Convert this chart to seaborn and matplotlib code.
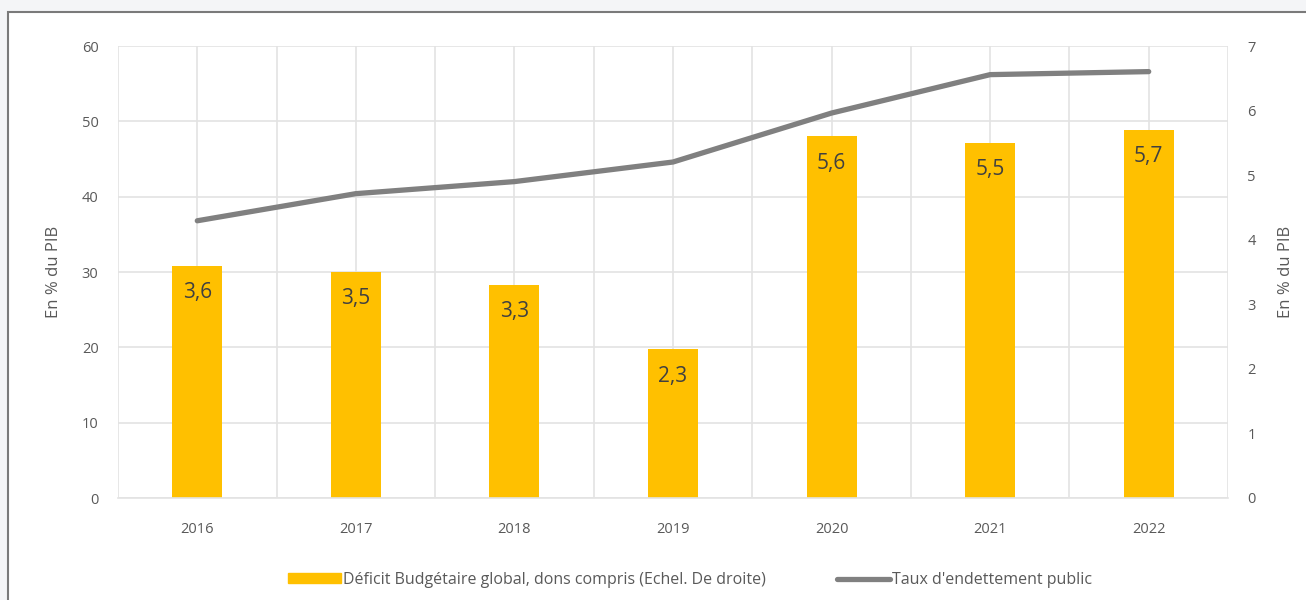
import matplotlib.pyplot as plt
import matplotlib.patches as mpatches
from matplotlib.lines import Line2D
import numpy as np
import pandas as pd
import seaborn as sns

annees = ['2016', '2017', '2018', '2019', '2020', '2021', '2022']
deficit = [3.6, 3.5, 3.3, 2.3, 5.6, 5.5, 5.7]
endettement = [36.8, 40.4, 42.0, 44.6, 51.1, 56.2, 56.6]

df = pd.DataFrame({'annee': annees, 'deficit': deficit, 'dette': endettement})

sns.set_theme(style="white")
plt.rcParams['font.family'] = ['Open Sans', 'DejaVu Sans']

gris_txt = '#595959'
jaune = '#ffc000'
gris_ligne = '#808080'
grille = '#e3e3e3'

fig = plt.figure(figsize=(13.06, 6), dpi=100)
fig.patch.set_facecolor('#f4f5f7')
# cadre blanc du graphique
fig.add_artist(mpatches.Rectangle((8 / 1306, -0.02), 1.05, 1 - 12 / 600 + 0.02,
                                  transform=fig.transFigure, facecolor='white',
                                  edgecolor='#7a7a7a', linewidth=1.5, zorder=0))

ax = fig.add_axes([118 / 1306, 1 - 498 / 600, 1110 / 1306, 452 / 600])
ax2 = ax.twinx()
ax2.xaxis.set_visible(True)

# barres sur l'echelle de droite
sns.barplot(x='annee', y='deficit', data=df, ax=ax2, color=jaune, width=0.315,
            saturation=1, edgecolor='none')
ax2.set_ylim(0, 7)
ax2.set_yticks(range(0, 8))
for i, v in enumerate(deficit):
    ax2.text(i, v - 0.25, f'{v:.1f}'.replace('.', ','), ha='center', va='top',
             fontsize=15, color='#404040')

# ligne sur l'echelle de gauche
sns.lineplot(x='annee', y='dette', data=df, ax=ax, color=gris_ligne, linewidth=3.8,
             solid_capstyle='round', sort=False)
ax.set_ylim(0, 60)
ax.set_yticks(range(0, 70, 10))
ax.set_xlim(-0.5, 6.5)
ax.set_zorder(ax2.get_zorder() + 1)
ax.patch.set_visible(False)
ax2.patch.set_visible(False)

# grille : lignes verticales au centre et aux limites des categories
ax2.set_xticks(np.arange(7))
ax2.set_xticks(np.arange(-0.5, 7, 1), minor=True)
ax2.grid(True, which='both', axis='x', color=grille, linewidth=1.2)
ax2.set_axisbelow(True)
for y in range(0, 70, 10):
    ax2.axhline(y * 7 / 60, color=grille, linewidth=1.2, zorder=0)

ax.set_xticks(np.arange(7))
ax.set_xticklabels(annees)
ax.set_xticks(np.arange(-0.5, 7, 1), minor=True)
ax.tick_params(axis='x', which='major', length=0, pad=17, labelsize=10.5, labelcolor=gris_txt)
ax.tick_params(axis='x', which='minor', length=6, width=1.2, color=grille, direction='out')
ax.tick_params(axis='y', length=0, pad=14, labelsize=10.5, labelcolor=gris_txt)
ax2.tick_params(axis='y', length=0, pad=14, labelsize=10.5, labelcolor=gris_txt)
ax2.tick_params(axis='x', which='both', length=0, labelbottom=False)

for a in (ax, ax2):
    for s in a.spines.values():
        s.set_visible(False)
ax.spines['bottom'].set_visible(True)
ax.spines['bottom'].set_color(grille)
ax.spines['bottom'].set_linewidth(1.2)

ax.set_xlabel('')
ax2.set_xlabel('')
ax.set_ylabel('En % du PIB', fontsize=12, color=gris_txt, labelpad=14)
ax2.set_ylabel('En % du PIB', fontsize=12, color=gris_txt, labelpad=16, rotation=90)

handles = [mpatches.Patch(color=jaune, label='Déficit Budgétaire global, dons compris (Echel. De droite)'),
           Line2D([0], [0], color=gris_ligne, linewidth=3.8, solid_capstyle='round',
                  label="Taux d'endettement public")]
leg = fig.legend(handles=handles, loc='center', bbox_to_anchor=(690 / 1306, 1 - 580 / 600),
                 ncol=2, frameon=False, fontsize=11.5, handlelength=3.3, handleheight=0.6,
                 handletextpad=0.1, columnspacing=4.5)
for t in leg.get_texts():
    t.set_color(gris_txt)

fig.savefig('out.png', dpi=100, facecolor=fig.get_facecolor())
